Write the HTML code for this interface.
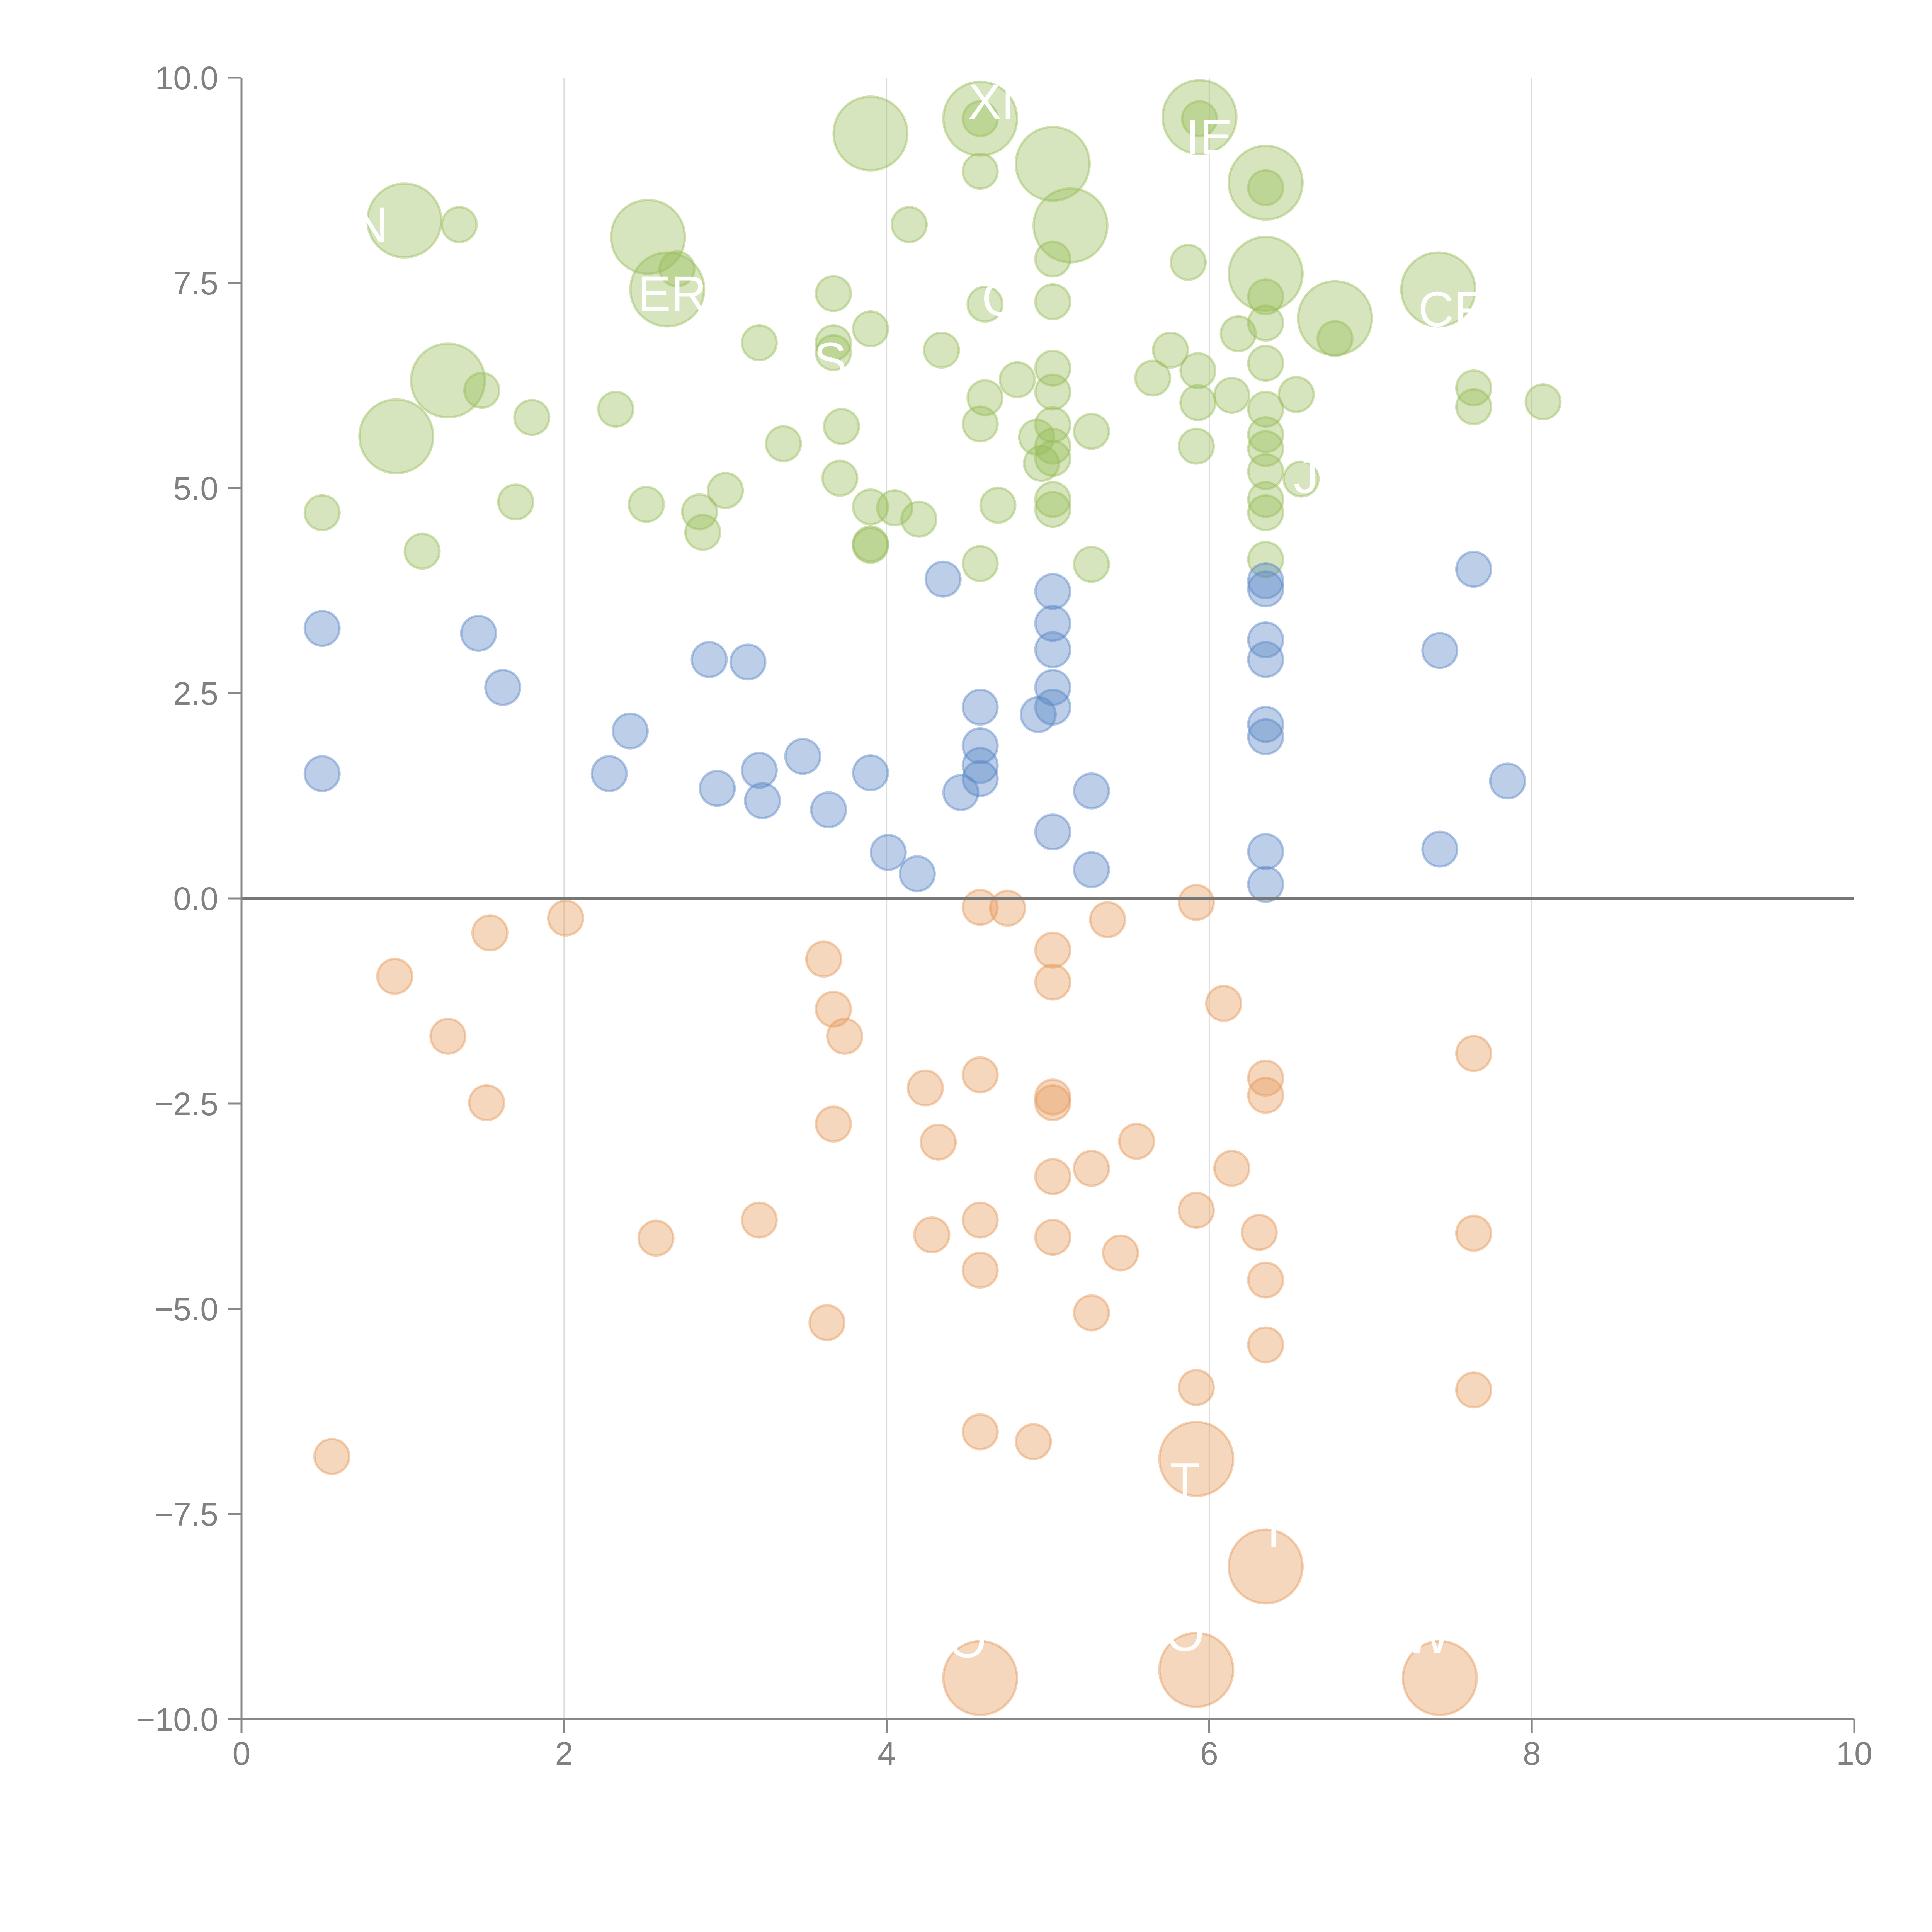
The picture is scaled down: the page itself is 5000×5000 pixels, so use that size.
<!DOCTYPE html>
<html><head><meta charset="utf-8"><style>html,body{margin:0;padding:0;background:#fff}svg{display:block}</style></head>
<body>
<svg id="chart" width="5000" height="5000" viewBox="0 0 5000 5000" xmlns="http://www.w3.org/2000/svg" font-family="Liberation Sans, sans-serif">
<rect width="5000" height="5000" fill="#fff"/>
<g id="grid"></g>
<g id="marks"></g>
<g id="labels"></g>
<g id="axes"></g>
</svg>
<script>
const xTicks = [0, 2, 4, 6, 8, 10];
const yTicks = [-10, -7.5, -5, -2.5, 0, 2.5, 5, 7.5, 10];
const xTickLabels = ["0", "2", "4", "6", "8", "10"];
const yTickLabels = ["\u221210.0", "\u22127.5", "\u22125.0", "\u22122.5", "0.0", "2.5", "5.0", "7.5", "10.0"];
const greenPoints = [
[3.90,9.32,4.5],[4.58,9.50,4.5],[5.94,9.52,4.5],[5.03,8.95,4.5],[6.35,8.72,4.5],[5.14,8.20,4.5],[1.01,8.26,4.5],[2.52,8.06,4.5],[2.64,7.42,4.5],[6.35,7.61,4.5],[6.78,7.07,4.5],[7.42,7.42,4.5],[1.28,6.31,4.5],[0.96,5.63,4.5],
[4.58,9.50,1],[5.94,9.50,1],[4.58,8.86,1],[6.35,8.66,1],[1.35,8.21,1],[4.14,8.21,1],[2.70,7.67,1],[5.87,7.75,1],[5.03,7.79,1],[3.67,7.37,1],[4.61,7.24,1],[5.03,7.27,1],[6.35,7.33,1],[6.35,7.01,1],[3.21,6.77,1],[3.67,6.77,1],[3.90,6.94,1],[6.18,6.88,1],[6.78,6.82,1],[3.67,6.65,1],[4.34,6.68,1],[5.76,6.68,1],[5.03,6.46,1],[5.93,6.43,1],[6.35,6.52,1],[5.65,6.34,1],[4.81,6.32,1],[5.03,6.17,1],[4.61,6.10,1],[6.14,6.13,1],[6.54,6.14,1],[7.64,6.22,1],[7.64,5.99,1],[8.07,6.05,1],[1.49,6.19,1],[2.32,5.96,1],[5.93,6.04,1],[6.35,5.96,1],[1.80,5.86,1],[4.58,5.78,1],[5.03,5.77,1],[3.72,5.75,1],[5.27,5.69,1],[6.35,5.65,1],[3.36,5.54,1],[4.93,5.62,1],[5.03,5.51,1],[5.92,5.51,1],[6.35,5.48,1],[5.03,5.36,1],[4.96,5.30,1],[6.35,5.20,1],[6.57,5.11,1],[3.71,5.12,1],[3.00,4.97,1],[0.50,4.70,1],[1.70,4.83,1],[2.51,4.80,1],[2.84,4.71,1],[3.90,4.77,1],[4.05,4.76,1],[4.69,4.79,1],[5.03,4.86,1],[5.03,4.74,1],[6.35,4.86,1],[6.35,4.70,1],[4.20,4.62,1],[2.86,4.46,1],[1.12,4.23,1],[3.90,4.32,1],[3.90,4.30,1],[4.58,4.08,1],[5.27,4.07,1],[6.35,4.13,1]
];
const bluePoints = [
[0.50,3.29,1],[1.47,3.23,1],[1.62,2.57,1],[2.90,2.91,1],[3.14,2.88,1],[2.41,2.04,1],[2.28,1.52,1],[0.50,1.52,1],[2.95,1.34,1],[3.21,1.56,1],[3.23,1.19,1],[3.48,1.73,1],[3.64,1.08,1],[3.90,1.53,1],[4.01,0.56,1],[4.19,0.30,1],[4.35,3.89,1],[4.46,1.29,1],[4.58,2.33,1],[4.58,1.86,1],[4.58,1.62,1],[4.58,1.46,1],[4.94,2.24,1],[5.03,3.74,1],[5.03,3.35,1],[5.03,3.03,1],[5.03,2.57,1],[5.03,2.33,1],[5.03,0.81,1],[5.27,1.31,1],[5.27,0.35,1],[6.35,3.87,1],[6.35,3.77,1],[6.35,3.15,1],[6.35,2.91,1],[6.35,2.12,1],[6.35,1.97,1],[6.35,0.57,1],[6.35,0.17,1],[7.64,4.01,1],[7.43,3.02,1],[7.85,1.43,1],[7.43,0.60,1]
];
const orangePoints = [
[2.01,-0.24,1],[1.54,-0.42,1],[0.95,-0.95,1],[1.28,-1.68,1],[1.52,-2.49,1],[0.56,-6.80,1],[2.57,-4.14,1],[3.21,-3.92,1],[3.61,-0.74,1],[3.67,-1.35,1],[3.74,-1.68,1],[3.67,-2.75,1],[3.63,-5.17,1],[4.24,-2.31,1],[4.32,-2.97,1],[4.28,-4.10,1],[4.58,-0.11,1],[4.75,-0.12,1],[4.58,-2.15,1],[4.58,-3.92,1],[4.58,-4.53,1],[4.58,-6.50,1],[4.91,-6.62,1],[5.03,-0.63,1],[5.03,-1.02,1],[5.03,-2.42,1],[5.03,-2.49,1],[5.03,-3.39,1],[5.03,-4.13,1],[5.27,-3.29,1],[5.27,-5.05,1],[5.37,-0.26,1],[5.55,-2.96,1],[5.45,-4.32,1],[5.92,-0.05,1],[6.09,-1.28,1],[5.92,-3.80,1],[5.92,-5.96,1],[6.14,-3.29,1],[6.31,-4.07,1],[6.35,-2.19,1],[6.35,-2.40,1],[6.35,-4.65,1],[6.35,-5.44,1],[7.64,-1.89,1],[7.64,-4.08,1],[7.64,-5.99,1],
[5.92,-6.83,4.5],[6.35,-8.14,4.5],[4.58,-9.50,4.5],[5.92,-9.40,4.5],[7.43,-9.50,4.5]
];
const pointLabels = [["N",0.8,8.0],["ER",2.67,7.16],["XI",4.65,9.5],["IE",6.0,9.07],["C",4.7,7.1],["S",3.65,6.35],["CF",7.5,6.97],["J",6.6,4.94],["T",5.85,-7.3],["I",6.4,-7.9],["O",4.5,-9.25],["O",5.85,-9.17],["W",7.35,-9.2]];

const X0=625, X1=4799, Y0=4449, Y1=201;
const sx = v => X0 + (v-0)/(10-0)*(X1-X0);
const sy = v => Y0 - (v+10)/20*(Y0-Y1);
const NS="http://www.w3.org/2000/svg";
function mk(tag, attrs, parent){const e=document.createElementNS(NS,tag);for(const k in attrs)e.setAttribute(k,attrs[k]);parent.appendChild(e);return e;}
const grid=document.getElementById('grid'), marks=document.getElementById('marks'), axes=document.getElementById('axes'), labels=document.getElementById('labels');

xTicks.forEach(t=>{ if(t>0&&t<10){ const l=mk('line',{x1:sx(t),x2:sx(t),y1:Y1,y2:Y0,stroke:'#dcdcdc','stroke-width':3},grid);

 }});

function drawSeries(pts, fill, stroke, name){
  pts.forEach(p=>{
    const c=mk('circle',{cx:sx(p[0]),cy:sy(p[1]),r:45*Math.sqrt(p[2]),fill:fill,'fill-opacity':0.4,stroke:stroke,'stroke-opacity':0.45,'stroke-width':6},marks);
    
    
  });
}
drawSeries(greenPoints,'#99bd5b','#99bd5b','green-bubble');
drawSeries(bluePoints,'#5b86c5','#5b86c5','blue-bubble');
drawSeries(orangePoints,'#e69a5c','#e69a5c','orange-bubble');

pointLabels.forEach(p=>{
  const t=mk('text',{x:sx(p[1]),y:sy(p[2]),fill:'#fff','font-size':128,'text-anchor':'middle'},labels);
  t.textContent=p[0];
  
  
});

const zl=mk('line',{x1:X0,x2:X1,y1:sy(0),y2:sy(0),stroke:'#777','stroke-width':6},axes);


const ya=mk('line',{x1:X0,x2:X0,y1:Y1,y2:Y0,stroke:'#888','stroke-width':5},axes);


const xa=mk('line',{x1:X0,x2:X1,y1:Y0,y2:Y0,stroke:'#888','stroke-width':5},axes);



xTicks.forEach((t,i)=>{
  const tk=mk('line',{x1:sx(t),x2:sx(t),y1:Y0,y2:Y0+35,stroke:'#888','stroke-width':5},axes);
  
  
  const tx=mk('text',{x:sx(t),y:Y0+118,fill:'#808080','font-size':84,'text-anchor':'middle'},axes);
  tx.textContent=xTickLabels[i];
  
  
});
yTicks.forEach((t,i)=>{
  const tk=mk('line',{x1:X0-35,x2:X0,y1:sy(t),y2:sy(t),stroke:'#888','stroke-width':5},axes);
  
  
  const tx=mk('text',{x:X0-60,y:sy(t)+30,fill:'#808080','font-size':84,'text-anchor':'end'},axes);
  tx.textContent=yTickLabels[i];
  
  
});
</script>
</body></html>
